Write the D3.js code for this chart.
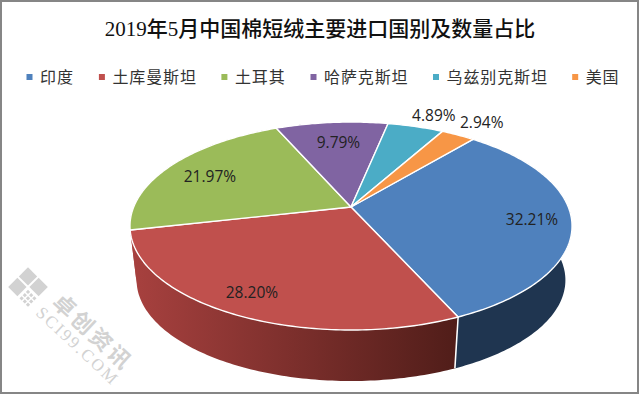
<!DOCTYPE html>
<html>
<head>
<meta charset="utf-8">
<script src="https://cdn.jsdelivr.net/npm/d3@7"></script>
<style>
html, body { margin: 0; padding: 0; background: #fff; }
svg { display: block; }
.cjk { font-family: "Noto Sans CJK SC", sans-serif; }
</style>
</head>
<body>
<div id="container"></div>
<script>
//chart data
var categories = ["印度", "土库曼斯坦", "土耳其", "哈萨克斯坦", "乌兹别克斯坦", "美国"];
var shares = [32.21, 28.20, 21.97, 9.79, 4.89, 2.94];
var shareLabels = ["32.21%", "28.20%", "21.97%", "9.79%", "4.89%", "2.94%"];
var titleText = "2019年5月中国棉短绒主要进口国别及数量占比";

//colours
var topColors = ["#4f81bd", "#c0504d", "#9bbb59", "#8064a2", "#4bacc6", "#f79646"];
var wallColors = ["#1f3550", "url(#redWall)", "url(#redWall)", "#4d3c62", "#2c6a7c", "#b0601c"];

//label placement, radius factor and nudges per slice
var labelRadius = [0.81, 0.86, 0.78, 0.78, 1.17, 1.23];
var labelNudgeX = [3, -2, 1, 3, 9, 3];
var labelNudgeY = [2, -4, 3, 4, 1, 2];

var width = 640,
    height = 395;

var svg = d3.select("#container")
    .append("svg")
    .attr("width", width)
    .attr("height", height);

var defs = svg.append("defs");
var redWall = defs.append("linearGradient")
    .attr("id", "redWall")
    .attr("gradientUnits", "userSpaceOnUse")
    .attr("x1", 130).attr("x2", 458)
    .attr("y1", 0).attr("y2", 0);
redWall.append("stop").attr("offset", "0%").attr("stop-color", "#a8413f");
redWall.append("stop").attr("offset", "100%").attr("stop-color", "#501d19");

//perspective pie: circle seen from above, back edge squeezed
var cx = 351, cy = 207,
    a = 217.3, b = 100.5, k = 0.183,
    shrink = 0.97, lift = 60.9;

function topPoint(angle, r) {
    var u = r * Math.sin(angle),
        v = -r * Math.cos(angle),
        w = 1 - k * v;
    return [cx + a * u / w, cy + b * v / w];
}
//bottom rim of the pie is the top rim pulled toward a far vanishing point
function bottomPoint(angle) {
    var p = topPoint(angle, 1);
    return [cx + (p[0] - cx) * shrink, p[1] * shrink + lift];
}

var startAngle = 39.8 * Math.PI / 180;
var slices = d3.pie()
    .sort(null)
    .startAngle(startAngle)
    .endAngle(startAngle + 2 * Math.PI)(shares);

var line = d3.line();

function arcAngles(d) {
    var n = Math.max(4, Math.ceil((d.endAngle - d.startAngle) * 60));
    return d3.range(n + 1).map(function(i) {
        return d.startAngle + (d.endAngle - d.startAngle) * i / n;
    });
}

//walls first, top faces paint over the hidden back part
svg.selectAll(".wall")
    .data(slices)
    .enter()
    .append("path")
    .attr("class", "wall")
    .attr("d", function(d) {
        var angles = arcAngles(d);
        var pts = angles.map(function(t) { return topPoint(t, 1); })
            .concat(angles.slice().reverse().map(bottomPoint));
        return line(pts) + "Z";
    })
    .style("fill", function(d, i) { return wallColors[i]; });

//white seam between the india and turkmenistan walls
svg.append("path")
    .attr("d", line([topPoint(slices[0].endAngle, 1), bottomPoint(slices[0].endAngle)]))
    .style("stroke", "#fff")
    .style("stroke-width", 1.5)
    .style("fill", "none");

svg.selectAll(".face")
    .data(slices)
    .enter()
    .append("path")
    .attr("class", "face")
    .attr("d", function(d) {
        var pts = [[cx, cy]].concat(arcAngles(d).map(function(t) { return topPoint(t, 1); }));
        return line(pts) + "Z";
    })
    .style("fill", function(d, i) { return topColors[i]; })
    .style("stroke", "#fff")
    .style("stroke-width", 1.4)
    .style("stroke-linejoin", "round");

//data labels
svg.selectAll(".dataLabel")
    .data(slices)
    .enter()
    .append("text")
    .attr("class", "dataLabel")
    .attr("text-anchor", "middle")
    .attr("x", function(d, i) {
        return topPoint((d.startAngle + d.endAngle) / 2, labelRadius[i])[0] + labelNudgeX[i];
    })
    .attr("y", function(d, i) {
        return topPoint((d.startAngle + d.endAngle) / 2, labelRadius[i])[1] + 5 + labelNudgeY[i];
    })
    .style("font-family", "'Open Sans', 'Noto Sans', sans-serif")
    .style("font-size", "15.5px")
    .style("fill", "#222")
    .text(function(d, i) { return shareLabels[i]; });

//title
svg.append("text")
    .attr("x", 320)
    .attr("y", 36)
    .attr("text-anchor", "middle")
    .style("font-family", "'Liberation Serif', 'Noto Sans CJK SC', serif")
    .style("font-size", "21px")
    .style("font-weight", 500)
    .style("fill", "#111")
    .text(titleText);

//legend
var legendX = 26.5;
categories.forEach(function(name, i) {
    var item = svg.append("g").attr("transform", "translate(" + legendX + ",0)");
    item.append("rect")
        .attr("y", 74)
        .attr("width", 6)
        .attr("height", 6)
        .style("fill", topColors[i]);
    item.append("text")
        .attr("class", "cjk")
        .attr("x", 13.5)
        .attr("y", 83)
        .style("font-size", "16px")
        .style("letter-spacing", "0.9px")
        .style("fill", "#333")
        .text(name);
    legendX += 13.5 + name.length * 16.7 + 25.5;
});

//watermark
var mark = svg.append("g")
    .attr("transform", "translate(28,287) rotate(45)")
    .style("fill", "#d2d2d2");
mark.append("rect").attr("x", -14).attr("y", -14).attr("width", 13).attr("height", 13);
mark.append("rect").attr("x", -14).attr("y", 1).attr("width", 13).attr("height", 13);
mark.append("rect").attr("x", 1).attr("y", -14).attr("width", 13).attr("height", 13);
d3.range(9).forEach(function(i) {
    mark.append("rect")
        .attr("x", 2 + (i % 3) * 4.5)
        .attr("y", 2 + Math.floor(i / 3) * 4.5)
        .attr("width", 3)
        .attr("height", 3);
});
svg.append("text")
    .attr("class", "cjk")
    .attr("transform", "translate(51,304) rotate(43)")
    .style("font-size", "22px")
    .style("font-weight", 700)
    .style("letter-spacing", "3px")
    .style("fill", "#d2d2d2")
    .text("卓创资讯");
svg.append("text")
    .attr("transform", "translate(35,314) rotate(43)")
    .style("font-family", "'Liberation Serif', serif")
    .style("font-size", "17px")
    .style("letter-spacing", "2.2px")
    .style("fill", "#d2d2d2")
    .text("SCI99.COM");

//outer frame
svg.append("rect")
    .attr("x", 1)
    .attr("y", 1)
    .attr("width", width - 3)
    .attr("height", height - 3)
    .style("fill", "none")
    .style("stroke", "#868686")
    .style("stroke-width", 2);
</script>
</body>
</html>
